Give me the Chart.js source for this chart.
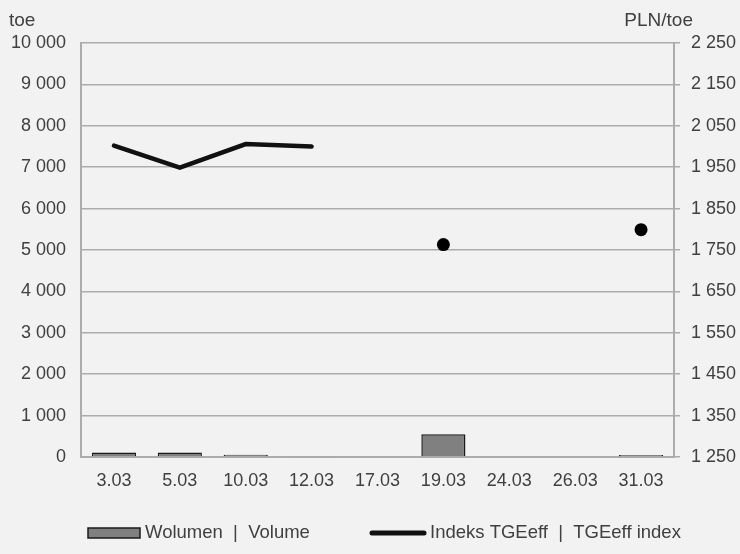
<!DOCTYPE html>
<html>
<head>
<meta charset="utf-8">
<script src="https://cdn.jsdelivr.net/npm/chart.js@4.4.1/dist/chart.umd.min.js"></script>
<style>
  html, body { margin: 0; padding: 0; background: #f2f2f2; }
  #wrap { width: 740px; height: 554px; }
</style>
</head>
<body>
<div id="wrap"><canvas id="tgeChart"></canvas></div>
<script>
// data
const dates = ['3.03', '5.03', '10.03', '12.03', '17.03', '19.03', '24.03', '26.03', '31.03'];
const volume = [110, 110, 55, 25, 0, 550, 0, 0, 50];
const tgeIndex = [2002, 1949, 2006, 2000, null, 1763, null, null, 1799];
const volumeTicks = [0, 10000, 1000];   // min, max, step
const priceTicks = [1250, 2250, 100];

const labelNames = ['Wolumen  |  Volume', 'Indeks TGEeff  |  TGEeff index'];

const textColor = '#404040';
const gridColor = '#acacac';
const fontFace = '"Liberation Sans", Arial, sans-serif';

function spaced(v) {
    return String(v).replace(/\B(?=(\d{3})+(?!\d))/g, ' ');
}

// unit captions above both axes
const unitTitles = {
    id: 'unitTitles',
    afterDraw(chart) {
        const c = chart.ctx;
        c.save();
        c.fillStyle = textColor;
        c.font = '19px ' + fontFace;
        c.textBaseline = 'alphabetic';
        c.textAlign = 'left';
        c.fillText('toe', 9, 26);
        c.textAlign = 'right';
        c.fillText('PLN/toe', 693, 26);
        c.restore();
    }
};

// legend at the bottom (bar swatch + thick line)
const bottomLegend = {
    id: 'bottomLegend',
    afterDraw(chart) {
        const c = chart.ctx;
        const y = 533;
        c.save();
        c.font = '18.5px ' + fontFace;
        c.textBaseline = 'middle';
        c.textAlign = 'left';

        let x = 88;
        c.fillStyle = '#808080';
        c.fillRect(x, y - 5, 52, 10);
        c.strokeStyle = '#1a1a1a';
        c.lineWidth = 1.5;
        c.strokeRect(x, y - 5, 52, 10);
        c.fillStyle = textColor;
        c.fillText(labelNames[0], x + 57, y);

        x = 370;
        c.strokeStyle = '#111111';
        c.lineWidth = 5;
        c.lineCap = 'round';
        c.beginPath();
        c.moveTo(x + 2, y);
        c.lineTo(x + 54, y);
        c.stroke();
        c.fillText(labelNames[1], x + 60, y);
        c.restore();
    }
};

function isolated(ctx) {
    const d = ctx.dataset.data;
    const i = ctx.dataIndex;
    if (d[i] == null) return 0;
    const prev = i > 0 ? d[i - 1] : null;
    const next = i < d.length - 1 ? d[i + 1] : null;
    return (prev == null && next == null) ? 6.5 : 0;
}

const ctx = document.getElementById('tgeChart').getContext('2d');

const chart = new Chart(ctx, {
    type: 'bar',
    data: {
        labels: dates,
        datasets: [{
            type: 'line',
            label: labelNames[1],
            data: tgeIndex,
            yAxisID: 'y1',
            borderColor: '#111111',
            borderWidth: 4.5,
            borderCapStyle: 'round',
            borderJoinStyle: 'miter',
            tension: 0,
            spanGaps: false,
            pointRadius: isolated,
            pointHoverRadius: isolated,
            pointBackgroundColor: '#000000',
            pointBorderWidth: 0,
            order: 0
        }, {
            label: labelNames[0],
            data: volume,
            yAxisID: 'y',
            backgroundColor: '#808080',
            borderColor: '#1a1a1a',
            borderWidth: 1.5,
            barPercentage: 0.67,
            categoryPercentage: 1,
            order: 1
        }]
    },
    options: {
        responsive: true,
        maintainAspectRatio: false,
        animation: false,
        layout: { padding: { top: 43, left: 0, right: 0, bottom: 0 } },
        plugins: {
            legend: { display: false },
            tooltip: { enabled: false }
        },
        scales: {
            x: {
                grid: { display: false },
                border: { display: true, color: gridColor, width: 2 },
                ticks: { color: textColor, font: { family: fontFace, size: 18 }, padding: 5, maxRotation: 0 },
                afterFit: s => { s.height = 97; }
            },
            y: {
                position: 'left',
                min: volumeTicks[0],
                max: volumeTicks[1],
                ticks: {
                    stepSize: volumeTicks[2],
                    color: textColor,
                    font: { family: fontFace, size: 18 },
                    padding: 15,
                    callback: v => spaced(v)
                },
                grid: { color: gridColor, lineWidth: 1.5, drawTicks: false },
                border: { display: true, color: gridColor, width: 2 },
                afterFit: s => { s.width = 81; }
            },
            y1: {
                position: 'right',
                min: priceTicks[0],
                max: priceTicks[1],
                ticks: {
                    stepSize: priceTicks[2],
                    color: textColor,
                    font: { family: fontFace, size: 18 },
                    padding: 11,
                    callback: v => spaced(v)
                },
                grid: { drawOnChartArea: false, color: gridColor, lineWidth: 1.5, tickLength: 6 },
                border: { display: true, color: gridColor, width: 2 },
                afterFit: s => { s.width = 66; }
            }
        }
    },
    plugins: [unitTitles, bottomLegend]
});
</script>
</body>
</html>
